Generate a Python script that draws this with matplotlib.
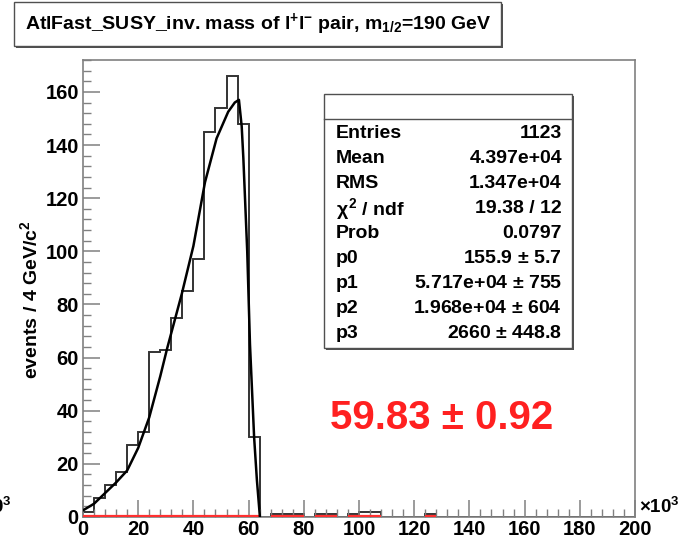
import numpy as np
import matplotlib
matplotlib.use("Agg")
import matplotlib.pyplot as plt
from matplotlib.patches import Rectangle
from matplotlib.ticker import MultipleLocator

plt.rcParams['font.family'] = ['Liberation Sans', 'DejaVu Sans']
plt.rcParams['mathtext.fontset'] = 'custom'
plt.rcParams['mathtext.rm'] = 'Liberation Sans:bold'
plt.rcParams['mathtext.it'] = 'Liberation Sans:bold'
plt.rcParams['mathtext.bf'] = 'Liberation Sans:bold'

# ---- data (x in units of 10^3) ----
bin_edges = np.arange(0, 204, 4)
counts = [2, 7, 12, 17, 27, 32, 62, 63, 75, 85,
          97, 145, 154, 166, 148, 30, 0, 1, 1, 1,
          0, 1, 1, 0, 1, 2, 2, 0, 0, 0,
          0, 1, 0, 0, 0, 0, 0, 0, 0, 0,
          0, 0, 0, 0, 0, 0, 0, 0, 0, 0]
fit_x = [0, 4, 8, 12, 16, 20, 24, 28, 30.5, 35.8, 40, 44.2, 48.4, 52.6, 55,
         56.5, 57.5, 58.1, 58.7, 59.5, 60.5, 62, 63, 64.1]
fit_y = [2.5, 5, 9, 13, 17.5, 26, 37.5, 53, 63.5, 84, 102, 126, 142.5, 152.5, 156,
         157, 147, 135, 120, 100, 65, 30, 14, 0]
x_ticks = [0, 20, 40, 60, 80, 100, 120, 140, 160, 180, 200]
y_ticks = [0, 20, 40, 60, 80, 100, 120, 140, 160]
title = r"AtlFast_SUSY_inv. mass of l$^{+}$l$^{-}$ pair, m$_{1/2}$=190 GeV"
ylabel = r"events / 4 GeV/c$^{2}$"
stat_names = ["Entries", "Mean", "RMS", r"$\chi^{2}$ / ndf", "Prob", "p0", "p1", "p2", "p3"]
stat_values = ["1123", "4.397e+04", "1.347e+04", "19.38 / 12", "0.0797",
               r"155.9 $\pm$ 5.7", r"5.717e+04 $\pm$ 755", r"1.968e+04 $\pm$ 604",
               r"2660 $\pm$ 448.8"]
result_text = "59.83 ± 0.92"

W, H = 683, 558
fig = plt.figure(figsize=(W / 100, H / 100), dpi=100)
fig.patch.set_facecolor('white')

def fx(px):
    return px / W

def fy(py):
    return 1 - py / H

L, R, T, B = 83, 635, 60, 517
ax = fig.add_axes([fx(L), fy(B), fx(R) - fx(L), fy(T) - fy(B)])
ax.set_xlim(0, 200)
ax.set_ylim(0, 172)

axis_col = '#808080'
for s in ax.spines.values():
    s.set_color(axis_col)
    s.set_linewidth(1.2)

ax.stairs(counts, bin_edges, color='#333333', linewidth=1.4)
cnt = np.array(counts)
nz = np.where(cnt > 0)[0]
ax.hlines(np.full(len(nz), 0.35), bin_edges[nz], bin_edges[nz + 1], color='#ff3030', linewidth=1.6, zorder=3)
ax.plot(fit_x, fit_y, color='black', linewidth=1.8, zorder=4)

ax.set_xticks(x_ticks)
ax.set_yticks(y_ticks)
ax.xaxis.set_minor_locator(MultipleLocator(4))
ax.yaxis.set_minor_locator(MultipleLocator(4))
ax.tick_params(which='both', direction='in', color=axis_col, top=False, right=False)
ax.tick_params(which='major', length=12, width=1.1)
ax.tick_params(which='minor', length=6, width=1.0)
ax.tick_params(axis='x', pad=2)
ax.tick_params(axis='y', pad=3)
for lab in ax.get_xticklabels() + ax.get_yticklabels():
    lab.set_fontsize(14.5)
    lab.set_fontweight('bold')

fig.text(fx(30), fy(300), ylabel, rotation=90, ha='center', va='center',
         fontsize=14, fontweight='bold')

# x10^3 labels
fig.text(fx(639), fy(507), r"×10$^{3}$", ha='left', va='center', fontsize=13.5, fontweight='bold')
fig.text(fx(12), fy(507), r"×10$^{3}$", ha='right', va='center', fontsize=13.5, fontweight='bold')

# boxes with shadow
def pave(x0, y0, x1, y1, shadow=2):
    fig.patches.append(Rectangle((fx(x0 + shadow), fy(y1 + shadow)), fx(x1) - fx(x0), fy(y0) - fy(y1),
                                 transform=fig.transFigure, facecolor='#505050', edgecolor='none', zorder=5))
    fig.patches.append(Rectangle((fx(x0), fy(y1)), fx(x1) - fx(x0), fy(y0) - fy(y1),
                                 transform=fig.transFigure, facecolor='white', edgecolor='#505050',
                                 linewidth=1.0, zorder=6))

pave(14, 2, 501, 46)
fig.text(fx(258), fy(24), title, ha='center', va='center', fontsize=14, fontweight='bold', zorder=7)

pave(324, 94, 572, 348)
fig.lines.append(plt.Line2D([fx(324), fx(572)], [fy(119), fy(119)], transform=fig.transFigure,
                            color='#505050', linewidth=1.0, zorder=7))
for i, (n, v) in enumerate(zip(stat_names, stat_values)):
    yy = fy(134 + i * 24.9)
    fig.text(fx(336), yy, n, ha='left', va='center', fontsize=14, fontweight='bold', zorder=7)
    fig.text(fx(562), yy, v, ha='right', va='center', fontsize=14, fontweight='bold', zorder=7)

fig.text(fx(442), fy(418), result_text, ha='center', va='center', fontsize=29,
         fontweight='bold', color='#ff2020')

fig.savefig('out.png', dpi=100)
